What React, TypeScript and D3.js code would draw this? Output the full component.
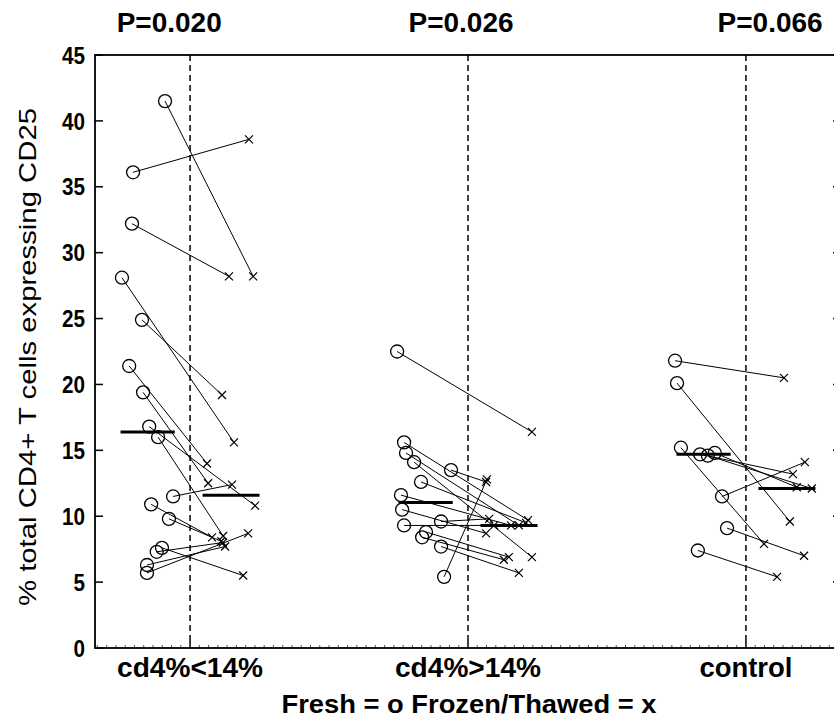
import React from "react";
import * as d3 from "d3";

const categories = ["cd4%<14%", "cd4%>14%", "control"];
const categoryLabelWidth = [146, 146, 93];
const pLabels = ["P=0.020", "P=0.026", "P=0.066"];
const pLabelX = [0.925, 1.975, 3.087];
const yTickValues = [0, 5, 10, 15, 20, 25, 30, 35, 40, 45];

// group 1: cd4%<14%
const fresh1 = [41.5, 36.1, 32.2, 28.1, 24.9, 21.4, 19.4, 16.8, 16.0, 11.5, 10.9, 9.8, 7.6, 7.3, 6.3, 5.7];
const freshJ1 = [-0.09, -0.205, -0.209, -0.245, -0.173, -0.219, -0.169, -0.147, -0.115, -0.061, -0.14, -0.076, -0.101, -0.12, -0.155, -0.155];
const frozen1 = [28.2, 38.6, 28.2, 15.6, 19.2, 14.0, 12.5, 10.8, 8.5, 12.4, 8.4, 8.1, 5.5, 8.0, 7.7, 8.7];
const frozenJ1 = [0.227, 0.212, 0.14, 0.158, 0.115, 0.061, 0.065, 0.234, 0.119, 0.151, 0.079, 0.112, 0.191, 0.118, 0.126, 0.209];

// group 2: cd4%>14%
const fresh2 = [22.5, 15.6, 14.8, 14.1, 13.5, 12.6, 11.6, 10.5, 9.3, 9.6, 8.8, 8.4, 7.7, 5.4];
const freshJ2 = [-0.255, -0.23, -0.223, -0.194, -0.061, -0.169, -0.241, -0.237, -0.23, -0.097, -0.151, -0.165, -0.097, -0.086];
const frozen2 = [16.4, 9.7, 9.3, 6.9, 12.6, 9.5, 9.3, 8.7, 9.3, 9.8, 6.9, 6.7, 5.7, 12.8];
const frozenJ2 = [0.23, 0.216, 0.183, 0.23, 0.065, 0.209, 0.155, 0.065, 0.094, 0.076, 0.147, 0.129, 0.183, 0.068];

// group 3: control
const fresh3 = [21.8, 20.1, 15.2, 14.7, 14.6, 14.8, 11.5, 9.1, 7.4];
const freshJ3 = [-0.255, -0.248, -0.234, -0.165, -0.137, -0.112, -0.086, -0.068, -0.173];
const frozen3 = [20.5, 9.6, 7.9, 13.2, 12.1, 12.2, 14.1, 7.0, 5.4];
const frozenJ3 = [0.137, 0.158, 0.065, 0.169, 0.237, 0.183, 0.212, 0.209, 0.112];

const groups = [
  { fresh: fresh1, freshJ: freshJ1, frozen: frozen1, frozenJ: frozenJ1 },
  { fresh: fresh2, freshJ: freshJ2, frozen: frozen2, frozenJ: frozenJ2 },
  { fresh: fresh3, freshJ: freshJ3, frozen: frozen3, frozenJ: frozenJ3 },
];

const freshBar = [-0.25, -0.055];
const frozenBar = [0.045, 0.25];

const W = 834;
const H = 720;
const left = 95, right = 841, top = 55, bottom = 648;

export default function App() {
  const x = d3.scaleLinear().domain([0.658, 3.342]).range([left, right]);
  const y = d3.scaleLinear().domain([0, 45]).range([bottom, top]);
  const minor = d3.range(-10, 80).map((i) => 1 + i / 30).filter((v) => v > 0.66 && v < 3.34);
  const font = "'Liberation Sans', Arial, sans-serif";

  return (
    <svg width={W} height={H} style={{ position: "absolute", left: 0, top: 0, background: "#fff" }} fontFamily={font}>
      <rect x={0} y={0} width={W} height={H} fill="#fff" />
      {categories.map((c, i) => (
        <g key={c}>
          <line x1={x(i + 1)} x2={x(i + 1)} y1={top} y2={bottom - 13} stroke="#000" strokeWidth={1.5} strokeDasharray="6,4" />
          <line x1={x(i + 1)} x2={x(i + 1)} y1={bottom - 13} y2={bottom} stroke="#000" strokeWidth={1.5} />
        </g>
      ))}
      {minor.map((v, i) => (
        <line key={i} x1={x(v)} x2={x(v)} y1={bottom} y2={bottom - 3} stroke="#555" strokeWidth={1} />
      ))}
      {yTickValues.map((t) => (
        <g key={t}>
          <line x1={left} x2={left + 8} y1={y(t)} y2={y(t)} stroke="#000" strokeWidth={1.5} />
          <line x1={right - 8} x2={right} y1={y(t)} y2={y(t)} stroke="#000" strokeWidth={1.5} />
          <text x={left - 10} y={y(t)} dy="0.36em" textAnchor="end" fontSize={24} fontWeight="bold"
            textLength={String(t).length * 11.5} lengthAdjust="spacingAndGlyphs">{t}</text>
        </g>
      ))}
      {groups.map((g, gi) => {
        const cx = gi + 1;
        const mf = d3.median(g.fresh) as number;
        const mz = d3.median(g.frozen) as number;
        return (
          <g key={gi}>
            {g.fresh.map((v, i) => (
              <line key={"l" + i} x1={x(cx + g.freshJ[i])} y1={y(v)} x2={x(cx + g.frozenJ[i])} y2={y(g.frozen[i])} stroke="#000" strokeWidth={1} />
            ))}
            <line x1={x(cx + freshBar[0])} x2={x(cx + freshBar[1])} y1={y(mf)} y2={y(mf)} stroke="#000" strokeWidth={3} />
            <line x1={x(cx + frozenBar[0])} x2={x(cx + frozenBar[1])} y1={y(mz)} y2={y(mz)} stroke="#000" strokeWidth={3} />
            {g.fresh.map((v, i) => (
              <circle key={"c" + i} cx={x(cx + g.freshJ[i])} cy={y(v)} r={6.5} fill="none" stroke="#000" strokeWidth={1.3} />
            ))}
            {g.frozen.map((v, i) => {
              const px = x(cx + g.frozenJ[i]);
              const py = y(v);
              const s = 4;
              return (
                <path key={"x" + i} d={`M${px - s},${py - s}L${px + s},${py + s}M${px - s},${py + s}L${px + s},${py - s}`} stroke="#000" strokeWidth={1.2} />
              );
            })}
          </g>
        );
      })}
      <rect x={left} y={top} width={right - left} height={bottom - top} fill="none" stroke="#000" strokeWidth={1.8} />
      {pLabels.map((p, i) => (
        <text key={p} x={x(pLabelX[i])} y={32} textAnchor="middle" fontSize={27} fontWeight="bold" textLength={105} lengthAdjust="spacingAndGlyphs">{p}</text>
      ))}
      {categories.map((c, i) => (
        <text key={c} x={x(i + 1)} y={677} textAnchor="middle" fontSize={27} fontWeight="bold"
          textLength={categoryLabelWidth[i]} lengthAdjust="spacingAndGlyphs">{c}</text>
      ))}
      <text x={469} y={713} textAnchor="middle" fontSize={25} fontWeight="bold" textLength={375} lengthAdjust="spacingAndGlyphs">Fresh = o Frozen/Thawed = x</text>
      <text transform={`translate(36,357) rotate(-90)`} textAnchor="middle" fontSize={24} textLength={498} lengthAdjust="spacingAndGlyphs">% total CD4+ T cells expressing CD25</text>
    </svg>
  );
}
